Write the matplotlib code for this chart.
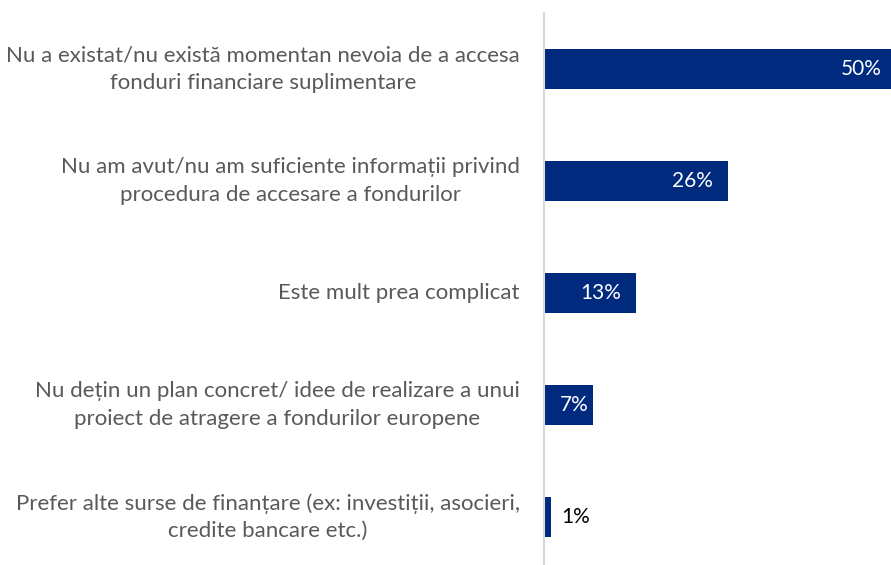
import matplotlib.pyplot as plt

labels = ["Nu a existat/nu există momentan nevoia de a accesa\nfonduri financiare suplimentare",
          "Nu am avut/nu am suficiente informații privind\nprocedura de accesare a fondurilor",
          "Este mult prea complicat",
          "Nu dețin un plan concret/ idee de realizare a unui\nproiect de atragere a fondurilor europene",
          "Prefer alte surse de finanțare (ex: investiții, asocieri,\ncredite bancare etc.)"]
values = [50, 26, 13, 7, 1]

plt.rcParams['font.family'] = ['Lato', 'DejaVu Sans']

W, H = 891, 565
fig = plt.figure(figsize=(W / 100, H / 100), dpi=100)
# axes may reach past the figure edge: the 50% bar is clipped on the right
left, right, top, step = 544, 897, 13, 112
ax = fig.add_axes([left / W, (H - top - 5 * step) / H, (right - left) / W, 5 * step / H])

pos = list(range(len(values)))
ax.barh(pos, values, height=0.355, color='#002A7E')
ax.set_xlim(0, 50)
ax.set_ylim(len(values) - 0.5, -0.5)

for i, (lab, v) in enumerate(zip(labels, values)):
    ax.annotate(lab, (0, i), xytext=(-24, 0), textcoords='offset pixels',
                ha='right', va='center', multialignment='center',
                fontsize=16, color='#595959', linespacing=1.45)
    if v >= 5:
        pad = -15 if v >= 10 else -5
        ax.annotate(f"{v}%", (v, i), xytext=(pad, 0), textcoords='offset pixels',
                    ha='right', va='center', fontsize=15, color='white')
    else:
        ax.annotate(f"{v}%", (v, i), xytext=(10, 0), textcoords='offset pixels',
                    ha='left', va='center', fontsize=15, color='black')

for s in ['top', 'right', 'bottom']:
    ax.spines[s].set_visible(False)
ax.spines['left'].set_color('#d9d9d9')
ax.spines['left'].set_linewidth(1.5)
ax.set_xticks([])
ax.set_yticks([])

fig.savefig('out.png', dpi=100)
